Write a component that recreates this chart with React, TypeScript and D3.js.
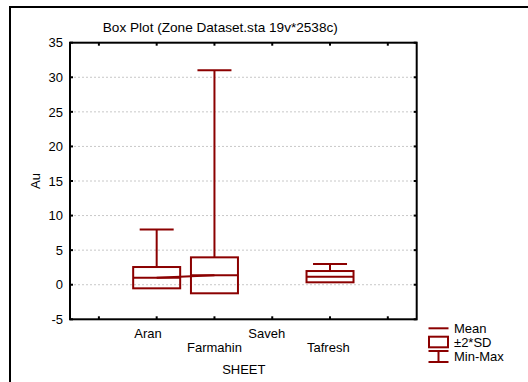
import React from "react";
import * as d3 from "d3";

const categories = ["Aran", "Farmahin", "Saveh", "Tafresh"];
const means: (number | null)[] = [1.01, 1.36, null, 1.16];
const sdHigh: (number | null)[] = [2.56, 3.96, null, 1.98];
const sdLow: (number | null)[] = [-0.52, -1.24, null, 0.35];
const maxVals: (number | null)[] = [8.0, 31.0, null, 2.99];
const minVals: (number | null)[] = [0.0, 0.0, null, 0.5];
const yTicks = [-5, 0, 5, 10, 15, 20, 25, 30, 35];
const gridTicks = [0, 5, 10, 15, 20, 25, 30];
const xTickIdx = [-1, 0, 1, 2, 3, 4];

const W = 528;
const H = 382;
const RED = "#8b0000";
const FONT = "Liberation Sans, Arial, sans-serif";

export default function App() {
  const L = 70, R = 416.7, T = 42.7, B = 319.3;
  const x = d3.scaleLinear().domain([-1.5, 4.5]).range([L, R]);
  const y = d3.scaleLinear().domain([-5, 35]).range([B, T]);
  const boxHalf = 23.5;
  const capHalf = 17;

  const meanSegs: [number, number][][] = [];
  for (let i = 0; i < categories.length - 1; i++) {
    if (means[i] != null && means[i + 1] != null) {
      meanSegs.push([
        [x(i), y(means[i] as number)],
        [x(i + 1), y(means[i + 1] as number)],
      ]);
    }
  }
  const line = d3.line<[number, number]>();
  const labelOffsets = [-8.7, 0, -5.5, -1.7];

  return (
    <div style={{ position: "fixed", left: 0, top: 0 }}>
      <svg width={W} height={H} style={{ display: "block", background: "#fff" }} fontFamily={FONT}>
        <rect x={0} y={0} width={W} height={H} fill="#fff" />
        {/* outer frame */}
        <rect x={10} y={7} width={W + 20} height={H + 20} fill="none" stroke="#000" strokeWidth={2} />
        <text x={220.3} y={31.5} fontSize={13.6} textAnchor="middle" fill="#000">
          Box Plot (Zone Dataset.sta 19v*2538c)
        </text>
        {/* grid */}
        {gridTicks.map((t) => (
          <line key={"g" + t} x1={L} x2={R} y1={y(t)} y2={y(t)} stroke="#c8c8c8" strokeWidth={1} strokeDasharray="2,2" />
        ))}
        {/* y tick labels */}
        {yTicks.map((t) => (
          <g key={"y" + t}>
            <text x={63} y={y(t)} dy="0.36em" fontSize={13} textAnchor="end" fill="#000">
              {t}
            </text>
            <line x1={L} x2={L + 3} y1={y(t)} y2={y(t)} stroke="#000" strokeWidth={2} />
            <line x1={R} x2={R - 3} y1={y(t)} y2={y(t)} stroke="#000" strokeWidth={2} />
          </g>
        ))}
        {/* x ticks */}
        {xTickIdx.map((i) => (
          <g key={"x" + i}>
            <line x1={x(i)} x2={x(i)} y1={B} y2={B - 3} stroke="#000" strokeWidth={2} />
            <line x1={x(i)} x2={x(i)} y1={T} y2={T + 3} stroke="#000" strokeWidth={2} />
          </g>
        ))}
        {/* x labels */}
        {categories.map((c, i) => (
          <text key={"xl" + c} x={x(i) + labelOffsets[i]} y={i % 2 === 0 ? 338.3 : 352.3} fontSize={13} textAnchor="middle" fill="#000">
            {c}
          </text>
        ))}
        <text x={243.8} y={374} fontSize={13} textAnchor="middle" fill="#000">SHEET</text>
        <text transform={`translate(39.5,${y(15)}) rotate(-90)`} fontSize={13} textAnchor="middle" fill="#000">Au</text>

        {/* boxes */}
        {categories.map((c, i) => {
          const m = means[i];
          if (m == null) return null;
          const hi = sdHigh[i] as number;
          const lo = sdLow[i] as number;
          const mx = maxVals[i] as number;
          const mn = minVals[i] as number;
          const cx = x(i);
          return (
            <g key={"b" + c} stroke={RED} strokeWidth={2} fill="none">
              {mx > hi && (
                <>
                  <line x1={cx} x2={cx} y1={y(hi)} y2={y(mx)} />
                  <line x1={cx - capHalf} x2={cx + capHalf} y1={y(mx)} y2={y(mx)} />
                </>
              )}
              {mn < lo && (
                <>
                  <line x1={cx} x2={cx} y1={y(lo)} y2={y(mn)} />
                  <line x1={cx - capHalf} x2={cx + capHalf} y1={y(mn)} y2={y(mn)} />
                </>
              )}
              <rect x={cx - boxHalf} y={y(hi)} width={boxHalf * 2} height={y(lo) - y(hi)} />
              <line x1={cx - boxHalf} x2={cx + boxHalf} y1={y(m)} y2={y(m)} />
            </g>
          );
        })}
        {meanSegs.map((s, k) => (
          <path key={"m" + k} d={line(s) as string} stroke={RED} strokeWidth={2} fill="none" />
        ))}

        {/* plot frame */}
        <rect x={L} y={T} width={R - L} height={B - T} fill="none" stroke="#000" strokeWidth={2} />

        {/* legend */}
        <g stroke={RED} strokeWidth={2} fill="none">
          <line x1={428.5} x2={448.5} y1={328.3} y2={328.3} />
          <rect x={429} y={336.7} width={19} height={10.6} />
          <line x1={428.5} x2={448.5} y1={351} y2={351} />
          <line x1={438.5} x2={438.5} y1={351} y2={362} />
          <line x1={428.5} x2={448.5} y1={362} y2={362} />
        </g>
        <g fontSize={13} fill="#000">
          <text x={454} y={332.5}>Mean</text>
          <text x={454} y={346.7}>±2*SD</text>
          <text x={454} y={360.7}>Min-Max</text>
        </g>
      </svg>
    </div>
  );
}
